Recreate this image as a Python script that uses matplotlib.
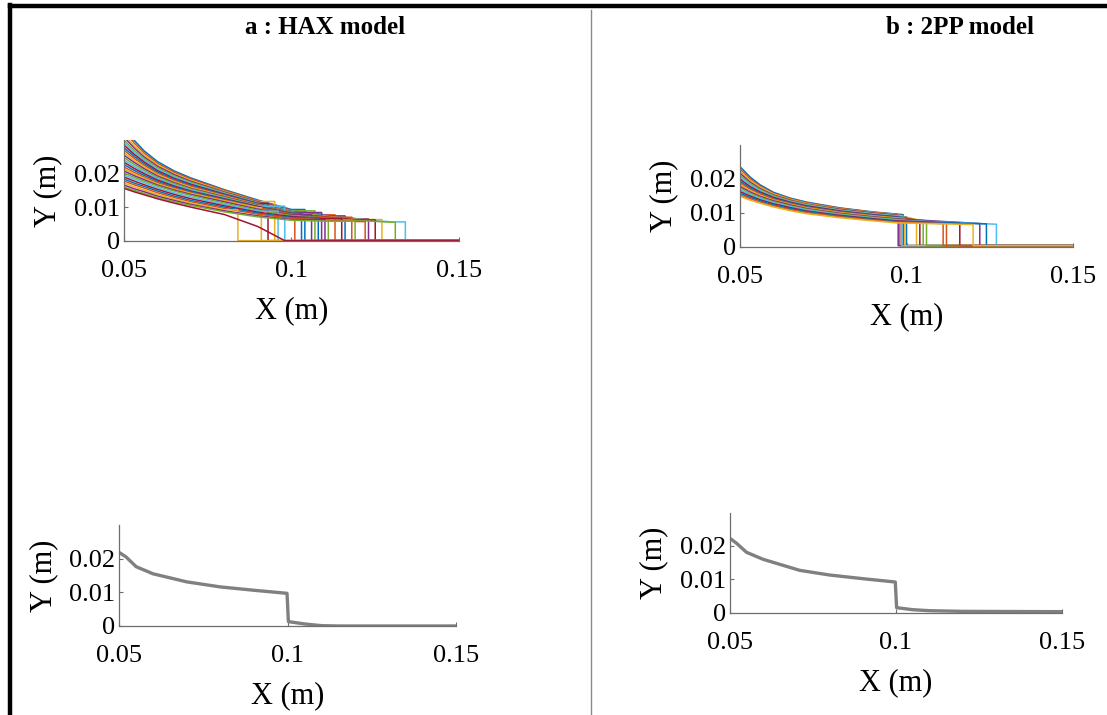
import matplotlib.pyplot as plt
from matplotlib.lines import Line2D

plt.rcParams['font.family'] = ['Liberation Serif', 'DejaVu Serif']

MATLAB_COLORS = ['#0072BD', '#D95319', '#EDB120', '#7E2F8E', '#77AC30', '#4DBEEE', '#A2142F']

# ---- HAX ensemble (top-left): heights at shared x knots, then drop position
hax_knots = [0.05, 0.053, 0.056, 0.06, 0.065, 0.07, 0.08, 0.09, 0.10, 0.11, 0.12, 0.13]
hax_heights = [
    [0.0345, 0.0300, 0.0268, 0.0236, 0.0208, 0.0187, 0.0152, 0.0121, 0.0093],
    [0.0330, 0.0292, 0.0262, 0.0231, 0.0204, 0.0184, 0.0150, 0.0119, 0.0091, 0.0077],
    [0.0318, 0.0284, 0.0256, 0.0226, 0.0200, 0.0180, 0.0147, 0.0117],
    [0.0309, 0.0277, 0.0250, 0.0222, 0.0197, 0.0177, 0.0145, 0.0116, 0.0090, 0.0076, 0.0065],
    [0.0300, 0.0270, 0.0245, 0.0218, 0.0193, 0.0174, 0.0143, 0.0114, 0.0089],
    [0.0292, 0.0264, 0.0240, 0.0213, 0.0190, 0.0171, 0.0141, 0.0112, 0.0088, 0.0075, 0.0064, 0.0056],
    [0.0285, 0.0258, 0.0235, 0.0209, 0.0186, 0.0168, 0.0139, 0.0111],
    [0.0277, 0.0252, 0.0230, 0.0205, 0.0183, 0.0165, 0.0137, 0.0110, 0.0087, 0.0074],
    [0.0270, 0.0246, 0.0225, 0.0201, 0.0180, 0.0162, 0.0135, 0.0108, 0.0086],
    [0.0262, 0.0240, 0.0220, 0.0197, 0.0176, 0.0159, 0.0133, 0.0107, 0.0085, 0.0073, 0.0063],
    [0.0255, 0.0234, 0.0215, 0.0193, 0.0173, 0.0156, 0.0131, 0.0106, 0.0084],
    [0.0248, 0.0228, 0.0210, 0.0189, 0.0170, 0.0154, 0.0129, 0.0104, 0.0083, 0.0072],
    [0.0241, 0.0222, 0.0205, 0.0185, 0.0166, 0.0151, 0.0127, 0.0103],
    [0.0234, 0.0216, 0.0200, 0.0181, 0.0163, 0.0148, 0.0125, 0.0102, 0.0082, 0.0071, 0.0062],
    [0.0227, 0.0210, 0.0195, 0.0177, 0.0160, 0.0146, 0.0123, 0.0100, 0.0081],
    [0.0220, 0.0204, 0.0190, 0.0173, 0.0157, 0.0143, 0.0121, 0.0099, 0.0080, 0.0070],
    [0.0214, 0.0199, 0.0186, 0.0169, 0.0154, 0.0141, 0.0119, 0.0098],
    [0.0208, 0.0194, 0.0182, 0.0166, 0.0151, 0.0138, 0.0116, 0.0094, 0.0077],
    [0.0202, 0.0189, 0.0178, 0.0163, 0.0148, 0.0135, 0.0112, 0.0091, 0.0075, 0.0067, 0.0060, 0.0055],
    [0.0196, 0.0184, 0.0173, 0.0158, 0.0143, 0.0130, 0.0108, 0.0088],
    [0.0190, 0.0178, 0.0167, 0.0153, 0.0138, 0.0125, 0.0104, 0.0085, 0.0072, 0.0066],
    [0.0184, 0.0172, 0.0162, 0.0148, 0.0133, 0.0120, 0.0100, 0.0082, 0.0069],
    [0.0178, 0.0167, 0.0157, 0.0143, 0.0129, 0.0116, 0.0096, 0.0079, 0.0067, 0.0062, 0.0057],
    [0.0172, 0.0161, 0.0151, 0.0138, 0.0124, 0.0112, 0.0092],
    [0.0166, 0.0155, 0.0146, 0.0133, 0.0120, 0.0108, 0.0089, 0.0074, 0.0063],
    [0.0160, 0.0150, 0.0141, 0.0129, 0.0116, 0.0105, 0.0086, 0.0071, 0.0061, 0.0058],
]
hax_drops = [0.104, 0.113, 0.095, 0.123, 0.107, 0.134, 0.093, 0.116, 0.101, 0.127, 0.109, 0.111, 0.098,
             0.125, 0.103, 0.118, 0.091, 0.106, 0.131, 0.096, 0.115, 0.108, 0.122, 0.084, 0.110, 0.119]
hax_low_x = [0.05, 0.053, 0.056, 0.06, 0.065, 0.07, 0.08, 0.09, 0.098, 0.15]
hax_low_y = [0.0156, 0.0146, 0.0137, 0.0125, 0.0112, 0.0100, 0.0078, 0.0042, 0.0, 0.0]

# ---- 2PP ensemble (top-right): heights at knots, level before drop, drop position
pp_knots = [0.05, 0.053, 0.056, 0.06, 0.065, 0.07, 0.08, 0.09, 0.097]
pp_heights = [
    [0.0235, 0.0205, 0.0182, 0.0160, 0.0143, 0.0131, 0.0114, 0.0102, 0.0096],
    [0.0228, 0.0200, 0.0178, 0.0157, 0.0141, 0.0129, 0.0113, 0.0101, 0.0095],
    [0.0222, 0.0195, 0.0175, 0.0155, 0.0139, 0.0127, 0.0111, 0.0100, 0.0094],
    [0.0216, 0.0190, 0.0171, 0.0152, 0.0137, 0.0125, 0.0110, 0.0099, 0.0093],
    [0.0210, 0.0186, 0.0168, 0.0150, 0.0135, 0.0124, 0.0108, 0.0097, 0.0091],
    [0.0204, 0.0182, 0.0165, 0.0147, 0.0133, 0.0122, 0.0107, 0.0096, 0.0090],
    [0.0198, 0.0177, 0.0161, 0.0145, 0.0131, 0.0120, 0.0105, 0.0094, 0.0088],
    [0.0192, 0.0173, 0.0158, 0.0142, 0.0129, 0.0118, 0.0103, 0.0093, 0.0087],
    [0.0187, 0.0169, 0.0155, 0.0140, 0.0127, 0.0116, 0.0102, 0.0091, 0.0085],
    [0.0182, 0.0165, 0.0151, 0.0137, 0.0125, 0.0114, 0.0100, 0.0090, 0.0084],
    [0.0177, 0.0161, 0.0148, 0.0135, 0.0123, 0.0112, 0.0098, 0.0088, 0.0082],
    [0.0172, 0.0157, 0.0145, 0.0132, 0.0120, 0.0110, 0.0096, 0.0086, 0.0080],
    [0.0167, 0.0153, 0.0142, 0.0129, 0.0118, 0.0108, 0.0094, 0.0084, 0.0078],
    [0.0162, 0.0149, 0.0138, 0.0126, 0.0115, 0.0105, 0.0092, 0.0082, 0.0076],
    [0.0157, 0.0145, 0.0135, 0.0123, 0.0112, 0.0103, 0.0090, 0.0080, 0.0074],
    [0.0152, 0.0141, 0.0131, 0.0120, 0.0109, 0.0100, 0.0088, 0.0078, 0.0072],
    [0.0148, 0.0137, 0.0128, 0.0117, 0.0106, 0.0097, 0.0085, 0.0076, 0.0070],
]
pp_tails = [0.0094, 0.0093, 0.0080, 0.0092, 0.0072, 0.0089, 0.0075, 0.0086, 0.0070,
            0.0083, 0.0068, 0.0071, 0.0066, 0.0069, 0.0067, 0.0068, 0.0065]
pp_drops = [0.099, 0.098, 0.103, 0.0975, 0.105, 0.0985, 0.104, 0.100, 0.112,
            0.0995, 0.122, 0.106, 0.127, 0.116, 0.124, 0.111, 0.120]

# ---- mean profiles (bottom row)
hax_mean_x = [0.05, 0.052, 0.055, 0.06, 0.07, 0.08, 0.09, 0.0998, 0.1002, 0.105, 0.11, 0.115, 0.15]
hax_mean_y = [0.0218, 0.0205, 0.0176, 0.0155, 0.0131, 0.0116, 0.0106, 0.0097, 0.0013, 0.0006, 0.0001, 0.0, 0.0]
pp_mean_x = [0.05, 0.052, 0.055, 0.06, 0.071, 0.08, 0.09, 0.0998, 0.1002, 0.105, 0.11, 0.12, 0.15]
pp_mean_y = [0.0223, 0.0208, 0.0181, 0.0160, 0.0127, 0.0113, 0.0102, 0.0092, 0.0015, 0.0009, 0.0006, 0.0004, 0.0003]

x_ticks = [0.05, 0.1, 0.15]
x_labels = ['0.05', '0.1', '0.15']
y_ticks = [0, 0.01, 0.02]
y_labels = ['0', '0.01', '0.02']


def style_axes(ax):
    ax.set_xlim(0.05, 0.15)
    ax.set_ylim(0, 0.03)
    ax.set_xticks(x_ticks)
    ax.set_xticklabels(x_labels)
    ax.set_yticks(y_ticks)
    ax.set_yticklabels(y_labels)
    for side in ['top', 'right']:
        ax.spines[side].set_visible(False)
    for side in ['left', 'bottom']:
        ax.spines[side].set_color('#6e6e6e')
        ax.spines[side].set_linewidth(0.9)
    ax.tick_params(axis='both', direction='in', length=3, width=0.8, color='#6e6e6e', labelsize=19)
    ax.tick_params(axis='x', pad=14)
    ax.tick_params(axis='y', pad=3)
    ax.set_xlabel('X (m)', fontsize=22, labelpad=10)
    ax.set_ylabel('Y (m)', fontsize=22, labelpad=8)


fig = plt.figure(figsize=(11.07, 7.15), dpi=100)

ax_a = fig.add_axes([0.1120, 0.6634, 0.3026, 0.1406])
ax_b = fig.add_axes([0.6685, 0.6550, 0.3008, 0.1427])
ax_c = fig.add_axes([0.1078, 0.1245, 0.3042, 0.1413])
ax_d = fig.add_axes([0.6594, 0.1431, 0.2999, 0.1399])

# HAX ensemble
for i, (h, d) in enumerate(zip(hax_heights, hax_drops)):
    xs = hax_knots[:len(h)] + [d, d, 0.15]
    ys = list(h) + [h[-1], 0.0, 0.0]
    ax_a.plot(xs, ys, color=MATLAB_COLORS[i % 7], lw=1.1)
ax_a.plot(hax_low_x, hax_low_y, color='#A2142F', lw=1.1)

# 2PP ensemble
for i, (h, t, d) in enumerate(zip(pp_heights, pp_tails, pp_drops)):
    xs = pp_knots + [d, d, 0.15]
    ys = list(h) + [t, 0.0003, 0.0003]
    ax_b.plot(xs, ys, color=MATLAB_COLORS[i % 7], lw=1.1)

# mean profiles
ax_c.plot(hax_mean_x, hax_mean_y, color='#808080', lw=2.4)
ax_d.plot(pp_mean_x, pp_mean_y, color='#808080', lw=2.4)

for ax in [ax_a, ax_b, ax_c, ax_d]:
    style_axes(ax)

fig.text(0.2936, 0.961, 'a : HAX model', ha='center', va='center', fontsize=18, fontweight='bold')
fig.text(0.867, 0.961, 'b : 2PP model', ha='center', va='center', fontsize=18, fontweight='bold')

# frame around the figure and the divider between the two models
fig.add_artist(Line2D([0.009, 1], [0.9916, 0.9916], color='black', lw=3.2, transform=fig.transFigure))
fig.add_artist(Line2D([0.009, 0.009], [0, 0.9935], color='black', lw=3.2, transform=fig.transFigure))
fig.add_artist(Line2D([0.534, 0.534], [0, 0.986], color='#8a8a8a', lw=1.0, transform=fig.transFigure))

fig.savefig('out.png', dpi=100)
